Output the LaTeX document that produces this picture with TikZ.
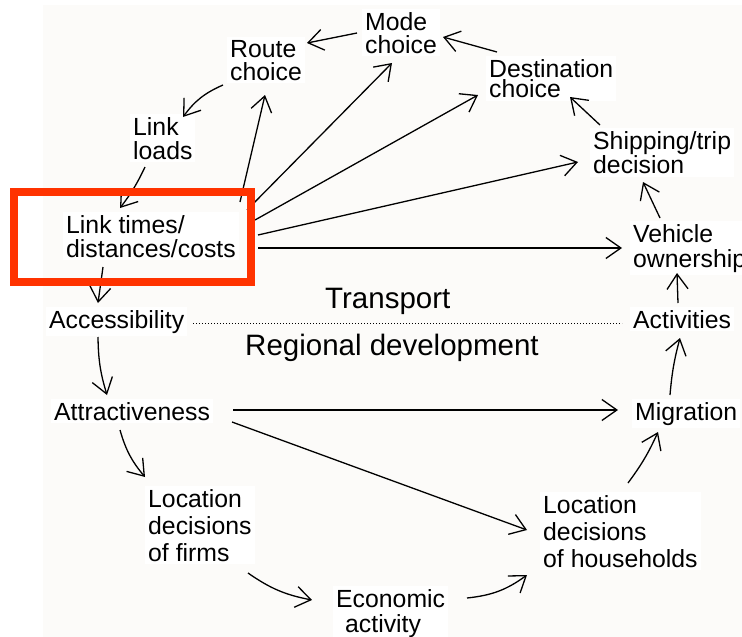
\documentclass[tikz,border=0pt]{standalone}
\usepackage{fontspec}
\setmainfont{Liberation Sans}
\usetikzlibrary{arrows.meta,calc}
\definecolor{bgc}{RGB}{252,251,249}
\definecolor{redbox}{RGB}{255,51,0}
\newcommand\lblfont[1]{\fontsize{24.8}{#1}\selectfont}
\begin{document}
\begin{tikzpicture}[x=1pt,y=-1pt,
  lbl/.style={fill=white, inner sep=3pt, anchor=base west, align=left, font={\lblfont{23.5}}},
  big/.style={inner sep=0pt, anchor=base west, font={\fontsize{29.5}{32}\selectfont}},
  arr/.style={line width=1.3pt, -{Straight Barb[length=15pt,width=21pt,line width=1.3pt]}},
  sep/.style={line width=1pt, dotted}]
\useasboundingbox (0,0) rectangle (742,637);
\fill[bgc] (43,5) rectangle (742,637);
% nodes (anchored at the baseline of their last line)
\node[lbl, font={\lblfont{23}}] (mode) at (362,53) {Mode\\choice};
\node[lbl, font={\lblfont{23}}] (route) at (227,80) {Route\\choice};
\node[lbl, font={\lblfont{20.5}}] (dest) at (486,97.5) {Destination\\choice};
\node[lbl, font={\lblfont{21.5}}] (ship) at (590,173.5) {Shipping/trip\\decision};
\node[lbl, font={\lblfont{24}}] (loads) at (130,159) {Link\\loads};
\node[lbl, font={\lblfont{24}}] (lt) at (63,257) {Link times/\\distances/costs};
\node[lbl, font={\lblfont{25}}] (veh) at (630,267) {Vehicle\\ownership};
\node[big] (trans) at (325,308) {Transport};
\node[lbl] (acc) at (46,328) {Accessibility};
\node[lbl] (act) at (630,328) {Activities};
\node[big] (reg) at (245,355) {Regional development};
\node[lbl] (attr) at (51,420) {Attractiveness};
\node[lbl] (mig) at (632,420) {Migration};
\node[lbl, font={\lblfont{27}}] (firms) at (145,561) {Location\\decisions\\of firms};
\node[lbl, font={\lblfont{27}}] (house) at (540,567) {Location\\decisions\\of households};
\node[lbl, font={\lblfont{25}}] (econ) at (333,632) {Economic\\\hspace*{9pt}activity};
% separator
\draw[sep] ([shift={(147,-5)}]acc.base west) -- ([shift={(-8,-5)}]act.base west);
% connectors
\draw[arr] ([shift={(-5,-20)}]mode.base west) -- ([shift={(80,-37)}]route.base west);
\draw[arr] ([shift={(11,-45.5)}]dest.base west) -- ([shift={(81,-16)}]mode.base west);
\draw[arr] ([shift={(10,-48.5)}]ship.base west) -- ([shift={(84,-0.5)}]dest.base west);
\draw[arr] ([shift={(30,-49)}]veh.base west) -- ([shift={(53,8.5)}]ship.base west);
\draw[arr] ([shift={(48,-25)}]act.base west) -- ([shift={(47,6)}]veh.base west);
\draw[arr] ([shift={(38,-25)}]mig.base west) to[bend left=5] ([shift={(50,10)}]act.base west);
\draw[arr] ([shift={(88,-84)}]house.base west) to[bend right=6] ([shift={(26,12)}]mig.base west);
\draw[arr] ([shift={(134,-34)}]econ.base west) to[bend right=15] ([shift={(-13,8)}]house.base west);
\draw[arr] ([shift={(103,12)}]firms.base west) to[bend right=12] ([shift={(-21,-32)}]econ.base west);
\draw[arr] ([shift={(69,10)}]attr.base west) to[bend right=12] ([shift={(0,-84)}]firms.base west);
\draw[arr] ([shift={(52,9)}]acc.base west) to[bend right=8] ([shift={(56,-25)}]attr.base west);
\draw[arr] ([shift={(40,10)}]lt.base west) -- ([shift={(52,-25)}]acc.base west);
\draw[arr] ([shift={(15,8)}]loads.base west) to[bend left=6] ([shift={(57,-49)}]lt.base west);
\draw[arr] ([shift={(-4,5)}]route.base west) to[bend right=15] ([shift={(53,-42)}]loads.base west);
\draw[arr] ([shift={(177,-55)}]lt.base west) -- ([shift={(38,15)}]route.base west);
\draw[arr] ([shift={(184,-47)}]lt.base west) -- ([shift={(30,10)}]mode.base west);
\draw[arr] ([shift={(192,-37)}]lt.base west) -- ([shift={(-8,-2.5)}]dest.base west);
\draw[arr] ([shift={(195,-22)}]lt.base west) -- ([shift={(-12,-11.5)}]ship.base west);
\draw[arr] ([shift={(195,-9)}]lt.base west) -- ([shift={(-8,-19)}]veh.base west);
\draw[arr] ([shift={(182,-10)}]attr.base west) -- ([shift={(-14,-10)}]mig.base west);
\draw[arr] ([shift={(181,2)}]attr.base west) -- ([shift={(-13,-37)}]house.base west);
% highlight box
\draw[redbox, line width=8.3pt] ([shift={(-49,-65)}]lt.base west) rectangle ([shift={(188,25)}]lt.base west);
\end{tikzpicture}
\end{document}
